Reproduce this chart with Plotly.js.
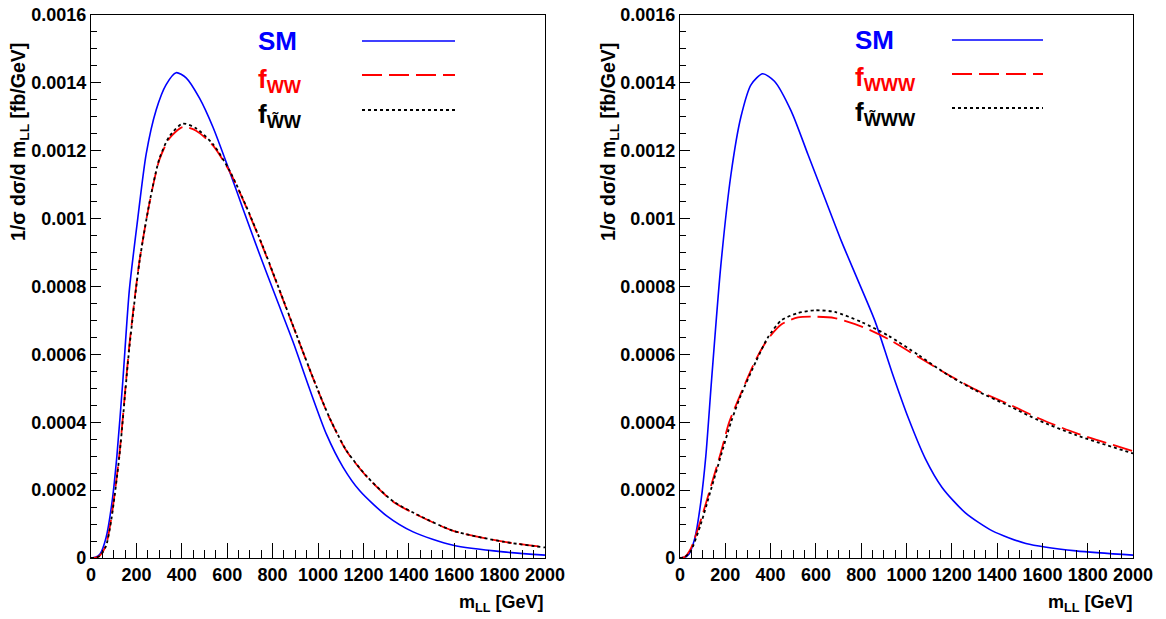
<!DOCTYPE html>
<html>
<head>
<meta charset="utf-8">
<script src="https://cdn.plot.ly/plotly-3.0.1.min.js"></script>
<style>html,body{margin:0;padding:0;background:#fff;}#chart{width:1166px;height:619px;}</style>
</head>
<body>
<div id="chart"></div>
<script>
// ---- Data ----
// Left panel: SM vs f_WW vs f_W~W
const leftSMx = [0, 20, 40, 66, 93, 114, 140, 169, 206, 243, 287, 331, 375, 419, 478, 537, 610, 669, 743, 816, 890, 963, 1037, 1110, 1184, 1301, 1419, 1596, 1816, 2000];
const leftSMy = [0, 0.000002, 0.000012, 0.000059, 0.000166, 0.0003, 0.00052, 0.00079, 0.00100, 0.00119, 0.00132, 0.001395, 0.00143, 0.001415, 0.001355, 0.00127, 0.00114, 0.00103, 0.000894, 0.000766, 0.000637, 0.000498, 0.000365, 0.000268, 0.000198, 0.000125, 0.000077, 0.0000375, 0.000018, 0.0000086];
const leftFWWx = [0, 20, 40, 66, 90, 125, 169, 213, 257, 301, 346, 404, 463, 537, 610, 684, 757, 831, 904, 978, 1051, 1125, 1213, 1331, 1449, 1596, 1816, 2000];
const leftFWWy = [0, 0.000001, 0.000008, 0.0000375, 0.00012, 0.000305, 0.000627, 0.000873, 0.001044, 0.001173, 0.001237, 0.00127, 0.001259, 0.001216, 0.00114, 0.001034, 0.000916, 0.000787, 0.000659, 0.00053, 0.000412, 0.000316, 0.000241, 0.000166, 0.000123, 0.00008, 0.000048, 0.000032];
const leftFtWWx = [0, 20, 40, 66, 90, 125, 169, 213, 257, 301, 346, 404, 463, 537, 610, 684, 757, 831, 904, 978, 1051, 1125, 1213, 1331, 1449, 1596, 1816, 2000];
const leftFtWWy = [0, 0.000001, 0.000007, 0.000035, 0.000115, 0.0003, 0.00062, 0.00087, 0.001045, 0.001176, 0.001243, 0.00128, 0.001266, 0.00122, 0.001142, 0.001036, 0.000918, 0.000789, 0.00066, 0.000531, 0.000413, 0.000317, 0.000242, 0.000167, 0.000124, 0.00008, 0.000048, 0.000031];

// Right panel: SM vs f_WWW vs f_W~WW
const rightSMx = [0, 20, 40, 66, 93, 114, 140, 180, 225, 269, 314, 365, 417, 491, 565, 639, 713, 787, 861, 935, 1009, 1083, 1157, 1260, 1379, 1527, 1749, 2000];
const rightSMy = [0, 0.000002, 0.000012, 0.00006, 0.00017, 0.0003, 0.00053, 0.00086, 0.00113, 0.0013, 0.001395, 0.001427, 0.001405, 0.001317, 0.001189, 0.001061, 0.000933, 0.000816, 0.000698, 0.000549, 0.000411, 0.000293, 0.000208, 0.000133, 0.00008, 0.000043, 0.000021, 0.0000085];
const rightFWWWx = [0, 20, 47, 92, 136, 180, 217, 269, 336, 388, 447, 521, 595, 683, 802, 920, 1053, 1186, 1305, 1453, 1586, 1749, 2000];
const rightFWWWy = [0, 0.000003, 0.000027, 0.000112, 0.00021, 0.00031, 0.0004, 0.000485, 0.000586, 0.000645, 0.000688, 0.000709, 0.000711, 0.000707, 0.000682, 0.000645, 0.000592, 0.000539, 0.000496, 0.000453, 0.000411, 0.000368, 0.000315];
const rightFtWWWx = [0, 20, 47, 92, 136, 180, 225, 269, 336, 388, 447, 521, 595, 683, 802, 920, 1053, 1186, 1305, 1453, 1586, 1749, 2000];
const rightFtWWWy = [0, 0.000002, 0.00002, 0.0001, 0.0002, 0.0003, 0.0004, 0.00048, 0.00058, 0.00065, 0.0007, 0.000722, 0.00073, 0.000725, 0.000695, 0.000655, 0.000598, 0.000538, 0.000494, 0.000448, 0.000405, 0.000362, 0.000308];

// Tick labels
const xTickVals = [0, 200, 400, 600, 800, 1000, 1200, 1400, 1600, 1800, 2000];
const xTickText = ["0", "200", "400", "600", "800", "1000", "1200", "1400", "1600", "1800", "2000"];
const yTickVals = [0, 0.0002, 0.0004, 0.0006, 0.0008, 0.001, 0.0012, 0.0014, 0.0016];
const yTickText = ["0", "0.0002", "0.0004", "0.0006", "0.0008", "0.001", "0.0012", "0.0014", "0.0016"];

// Legend labels
const leftLabels = ["SM", "f<sub>WW</sub>", "f<sub>W\u0303W</sub>"];
const rightLabels = ["SM", "f<sub>WWW</sub>", "f<sub>W\u0303WW</sub>"];
const yTitle = "1/\u03c3 d\u03c3/d m<sub>LL</sub> [fb/GeV]";
const xTitle = "m<sub>LL</sub> [GeV]";

// ---- Styles ----
const FONT = "Liberation Sans, Arial, sans-serif";
const W = 1166, H = 619;
const px = v => v / W;
const py = v => 1 - v / H;
const BLUE = "#0000ff", RED = "#ff0000", BLACK = "#000000";
const styles = [
  {color: BLUE, width: 1.6, dash: "solid"},
  {color: RED, width: 1.8, dash: "20px,7px"},
  {color: BLACK, width: 1.8, dash: "3px,3px"}
];

function tr(x, y, st, xa, ya, name) {
  return {x: x, y: y, type: "scatter", mode: "lines", name: name,
    xaxis: xa, yaxis: ya, showlegend: false, hoverinfo: "skip",
    line: {color: st.color, width: st.width, dash: st.dash, shape: "spline", smoothing: 0.7}};
}

const data = [
  tr(leftSMx, leftSMy, styles[0], "x", "y", "SM"),
  tr(leftFWWx, leftFWWy, styles[1], "x", "y", "fWW"),
  tr(leftFtWWx, leftFtWWy, styles[2], "x", "y", "ftWW"),
  tr(rightSMx, rightSMy, styles[0], "x2", "y2", "SM"),
  tr(rightFWWWx, rightFWWWy, styles[1], "x2", "y2", "fWWW"),
  tr(rightFtWWWx, rightFtWWWy, styles[2], "x2", "y2", "ftWWW")
];

const tickFont = {family: FONT, size: 18, color: "#000", weight: "bold"};
function xax(dom, anchor) {
  return {domain: dom, anchor: anchor, range: [0, 2000], tickmode: "array",
    tickvals: xTickVals, ticktext: xTickText, ticks: "inside", ticklen: 15, tickwidth: 1,
    tickcolor: "#000", minor: {dtick: 50, tick0: 0, ticks: "inside", ticklen: 8, tickcolor: "#000", tickwidth: 1},
    showline: true, mirror: true, linecolor: "#000", linewidth: 1.2, showgrid: false, zeroline: false,
    tickfont: tickFont, fixedrange: true};
}
function yax(anchor) {
  return {domain: [py(558), py(15)], anchor: anchor, range: [0, 0.0016], tickmode: "array",
    tickvals: yTickVals, ticktext: yTickText, ticks: "inside", ticklen: 10, tickwidth: 1,
    tickcolor: "#000", minor: {dtick: 0.00005, tick0: 0, ticks: "inside", ticklen: 6, tickcolor: "#000", tickwidth: 1},
    showline: true, mirror: true, linecolor: "#000", linewidth: 1.2, showgrid: false, zeroline: false,
    tickfont: tickFont, fixedrange: true};
}

const annotations = [];
const shapes = [];
function legend(labels, textX, lineX0, lineX1, ys) {
  const colors = [BLUE, RED, BLACK];
  labels.forEach((lab, i) => {
    annotations.push({xref: "paper", yref: "paper", x: px(textX), y: py(ys[i] + (i === 0 ? 0 : 5)),
      xanchor: "left", yanchor: "middle", showarrow: false, text: lab,
      font: {family: FONT, size: 26, color: colors[i], weight: "bold"}});
    shapes.push({type: "line", xref: "paper", yref: "paper", x0: px(lineX0), x1: px(lineX1),
      y0: py(ys[i]), y1: py(ys[i]), line: {color: styles[i].color, width: styles[i].width, dash: styles[i].dash}});
  });
}
legend(leftLabels, 256, 362, 455, [41, 75, 110]);
legend(rightLabels, 853, 952, 1043, [40, 74, 108]);

// axis titles
[[20, 142], [610, 142]].forEach(p => {
  annotations.push({xref: "paper", yref: "paper", x: px(p[0]), y: py(p[1]), xanchor: "center", yanchor: "middle",
    textangle: -90, showarrow: false, text: yTitle, font: {family: FONT, size: 19.5, color: "#000", weight: "bold"}});
});
[545, 1134].forEach(xr => {
  annotations.push({xref: "paper", yref: "paper", x: px(xr), y: py(603), xanchor: "right", yanchor: "middle",
    showarrow: false, text: xTitle, font: {family: FONT, size: 18, color: "#000", weight: "bold"}});
});

const layout = {
  width: W, height: H, margin: {l: 0, r: 0, t: 0, b: 0},
  paper_bgcolor: "#fff", plot_bgcolor: "#fff", showlegend: false,
  xaxis: xax([px(91), px(545)], "y"),
  yaxis: yax("x"),
  xaxis2: xax([px(680), px(1133)], "y2"),
  yaxis2: yax("x2"),
  annotations: annotations, shapes: shapes
};

Plotly.newPlot("chart", data, layout, {staticPlot: true, displayModeBar: false});
</script>
</body>
</html>
